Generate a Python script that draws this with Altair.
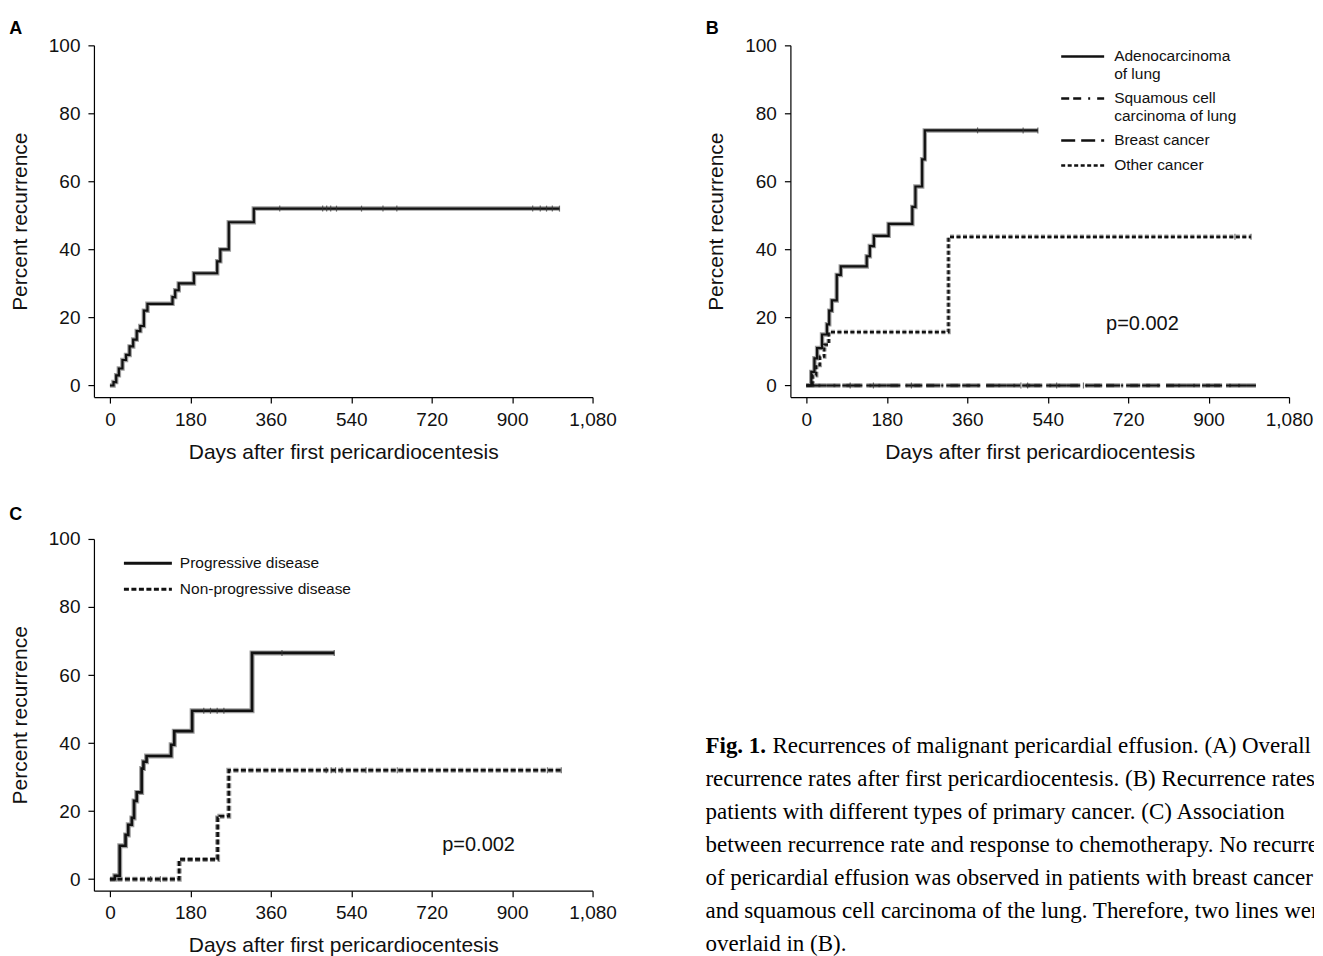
import altair as alt
import pandas as pd

SANS = "Liberation Sans"
SERIF = "Liberation Serif"
INK = "#111111"
HALO = "#9c9c9c"

x_ticks = [0, 180, 360, 540, 720, 900, 1080]
y_ticks = [0, 20, 40, 60, 80, 100]
x_title = "Days after first pericardiocentesis"
y_title = "Percent recurrence"
X_DOMAIN = [-35.8, 1080]
Y_DOMAIN = [-3.4, 100]
W, H = 499, 352

# ---------------- Panel A: overall ----------------
a_days = [0, 8, 14, 20, 28, 36, 44, 52, 60, 68, 76, 84, 140, 146, 154, 188, 240, 247, 266, 322, 1006]
a_vals = [0, 1, 3, 5, 7.5, 9, 11.5, 13.5, 16, 17.5, 22, 24, 26, 28, 30, 33, 36.5, 40, 48, 52, 52]
a_cens_days = [380, 476, 485, 494, 507, 563, 611, 642, 946, 963, 977, 990, 1006]
a_cens_vals = [52, 52, 52, 52, 52, 52, 52, 52, 52, 52, 52, 52, 52]

# ---------------- Panel B: by primary cancer ----------------
b_series = ["Adenocarcinoma of lung", "Squamous cell carcinoma of lung", "Breast cancer", "Other cancer"]
b_dashes = [[1, 0], [8, 4, 8, 7, 2, 7], [14, 6], [4, 2.5]]
b_adeno_days = [0, 11, 18, 24, 35, 46, 51, 57, 68, 77, 135, 142, 151, 184, 237, 244, 259, 265, 518]
b_adeno_vals = [0, 4, 8, 11, 15, 18, 22, 25, 32.5, 35, 38, 41, 44, 47.5, 52.5, 58.5, 66.5, 75, 75]
b_squam_days = [0, 985]
b_squam_vals = [0, 0]
b_breast_days = [0, 1006]
b_breast_vals = [0, 0]
b_other_days = [0, 14, 22, 30, 40, 50, 318, 995]
b_other_vals = [0, 3, 6, 8.5, 12, 15.7, 43.7, 43.7]
b_cens_days = [383, 485, 518, 959, 995, 98, 150, 235, 480, 495, 560, 620]
b_cens_vals = [75, 75, 75, 43.7, 43.7, 0, 0, 0, 0, 0, 0, 0]
b_p_day, b_p_val = [752], [18.2]

# ---------------- Panel C: by response ----------------
c_series = ["Progressive disease", "Non-progressive disease"]
c_dashes = [[1, 0], [5, 2.5]]
c_prog_days = [0, 11, 22, 35, 41, 49, 54, 60, 71, 75, 82, 137, 144, 184, 318, 502]
c_prog_vals = [0, 1, 9.8, 13, 16, 18, 23, 25.5, 32.5, 34.5, 36.2, 39.5, 43.5, 49.5, 66.5, 66.5]
c_non_days = [0, 155, 241, 246, 266, 1010]
c_non_vals = [0, 5.8, 18, 18.5, 32, 32]
c_cens_days = [210, 225, 240, 255, 385, 502, 91, 113, 484, 495, 505, 519, 573, 643, 979, 1010]
c_cens_vals = [49.5, 49.5, 49.5, 49.5, 66.5, 66.5, 0, 0, 32, 32, 32, 32, 32, 32, 32, 32]
c_p_day, c_p_val = [825], [10]

# ---------------- Caption ----------------
cap_bold = "Fig. 1."
cap_first = "Recurrences of malignant pericardial effusion. (A) Overall"
cap_rest = [
    "recurrence rates after first pericardiocentesis. (B) Recurrence rates in",
    "patients with different types of primary cancer. (C) Association",
    "between recurrence rate and response to chemotherapy. No recurrence",
    "of pericardial effusion was observed in patients with breast cancer",
    "and squamous cell carcinoma of the lung. Therefore, two lines were",
    "overlaid in (B).",
]


def series_df(name, days, vals):
    return pd.DataFrame({"series": name, "day": days, "pct": vals})


def enc_x():
    return alt.X("day:Q", scale=alt.Scale(domain=X_DOMAIN, nice=False, zero=False),
                 axis=alt.Axis(values=x_ticks, format=",d", title=x_title, grid=False,
                               labelFlush=False, labelOverlap=False, tickSize=6,
                               labelPadding=7, titlePadding=12))


def enc_y():
    return alt.Y("pct:Q", scale=alt.Scale(domain=Y_DOMAIN, nice=False, zero=False),
                 axis=alt.Axis(values=y_ticks, title=y_title, grid=False, tickSize=6,
                               labelPadding=8, titlePadding=18))


def panel_title(t, off):
    return alt.TitleParams(text=t, anchor="start", frame="bounds", font=SANS, fontSize=18,
                           fontWeight="bold", color="#000", offset=off)


def censor_layer(days, vals):
    df = pd.DataFrame({"day": days, "pct": vals})
    return alt.Chart(df).mark_tick(orient="vertical", size=6, thickness=1.2, color="#333").encode(
        x=enc_x(), y=enc_y())


def ptext_layer(days, vals):
    df = pd.DataFrame({"day": days, "pct": vals, "t": ["p=0.002"]})
    return alt.Chart(df).mark_text(font=SANS, fontSize=20, color=INK, align="center",
                                   baseline="middle").encode(x=enc_x(), y=enc_y(), text="t:N")


# Panel A
dfA = series_df("Overall", a_days, a_vals)
A = alt.layer(
    alt.Chart(dfA).mark_line(interpolate="step-after", color=HALO, strokeWidth=4.5).encode(x=enc_x(), y=enc_y()),
    alt.Chart(dfA).mark_line(interpolate="step-after", color=INK, strokeWidth=2.2).encode(x=enc_x(), y=enc_y()),
    censor_layer(a_cens_days, a_cens_vals),
).properties(width=W, height=H, title=panel_title("A", -2))

# Panel B
dfB = pd.concat([
    series_df(b_series[0], b_adeno_days, b_adeno_vals),
    series_df(b_series[1], b_squam_days, b_squam_vals),
    series_df(b_series[2], b_breast_days, b_breast_vals),
    series_df(b_series[3], b_other_days, b_other_vals),
], ignore_index=True)

b_label_expr = ("datum.label == 'Adenocarcinoma of lung' ? ['Adenocarcinoma', '\u00a0of lung'] : "
                "datum.label == 'Squamous cell carcinoma of lung' ? ['Squamous cell', 'carcinoma of lung'] : datum.label")


def b_legend():
    return alt.Legend(orient="none", legendX=280.5, legendY=4, title=None,
                      padding=0, symbolType="M-2,-0.44H2", symbolSize=462,
                      symbolStrokeWidth=2.5, symbolStrokeColor=INK,
                      labelFont=SANS, labelFontSize=15.5, labelColor=INK, labelLimit=300,
                      labelOffset=19.5, labelBaseline="alphabetic",
                      rowPadding=9, labelExpr=b_label_expr)


def c_legend():
    return alt.Legend(orient="none", legendX=40.5, legendY=16, title=None,
                      padding=0, symbolType="M-2,-0.44H2", symbolSize=576,
                      symbolStrokeWidth=3, symbolStrokeColor=INK,
                      labelFont=SANS, labelFontSize=15.5, labelColor=INK, labelLimit=300,
                      labelOffset=18.5, labelBaseline="alphabetic", rowPadding=9)


b_dash_scale = alt.Scale(domain=b_series, range=b_dashes)
B = alt.layer(
    alt.Chart(dfB).mark_line(interpolate="step-after", color=HALO, strokeWidth=4.5).encode(
        x=enc_x(), y=enc_y(), strokeDash=alt.StrokeDash("series:N", scale=b_dash_scale, legend=b_legend())),
    alt.Chart(dfB).mark_line(interpolate="step-after", color=INK, strokeWidth=2.2).encode(
        x=enc_x(), y=enc_y(), strokeDash=alt.StrokeDash("series:N", scale=b_dash_scale, legend=b_legend())),
    censor_layer(b_cens_days, b_cens_vals),
    ptext_layer(b_p_day, b_p_val),
).properties(width=W, height=H, title=panel_title("B", -2))

# Panel C
dfC = pd.concat([
    series_df(c_series[0], c_prog_days, c_prog_vals),
    series_df(c_series[1], c_non_days, c_non_vals),
], ignore_index=True)
c_dash_scale = alt.Scale(domain=c_series, range=c_dashes)
C = alt.layer(
    alt.Chart(dfC).mark_line(interpolate="step-after", color=HALO, strokeWidth=5).encode(
        x=enc_x(), y=enc_y(), strokeDash=alt.StrokeDash("series:N", scale=c_dash_scale, legend=c_legend())),
    alt.Chart(dfC).mark_line(interpolate="step-after", color=INK, strokeWidth=2.6).encode(
        x=enc_x(), y=enc_y(), strokeDash=alt.StrokeDash("series:N", scale=c_dash_scale, legend=c_legend())),
    censor_layer(c_cens_days, c_cens_vals),
    ptext_layer(c_p_day, c_p_val),
).properties(width=W, height=H, title=panel_title("C", 6))

# Caption panel
cap_df = pd.DataFrame({"row": list(range(1, 7)), "text": cap_rest})
cap0_df = pd.DataFrame({"row": [0], "text": [cap_first]})
capb_df = pd.DataFrame({"row": [0], "text": [cap_bold]})
cap_y = alt.Y("row:Q", scale=alt.Scale(domain=[-6.27, 7.06], reverse=True, nice=False, zero=False), axis=None)
CAP = alt.layer(
    alt.Chart(capb_df).mark_text(font=SERIF, fontSize=23, fontWeight="bold", color="#000", clip=True,
                                 align="left", baseline="middle").encode(x=alt.value(0), y=cap_y, text="text:N"),
    alt.Chart(cap0_df).mark_text(font=SERIF, fontSize=23, color="#000", align="left", baseline="middle",
                                 dx=67, clip=True).encode(x=alt.value(0), y=cap_y, text="text:N"),
    alt.Chart(cap_df).mark_text(font=SERIF, fontSize=23, color="#000", align="left", clip=True,
                                baseline="middle").encode(x=alt.value(0), y=cap_y, text="text:N"),
).properties(width=609, height=440)

row1 = alt.hconcat(A, B, spacing=87).resolve_scale(strokeDash="independent").resolve_legend(strokeDash="independent")
row2 = alt.hconcat(C, CAP, spacing=87).resolve_scale(strokeDash="independent").resolve_legend(strokeDash="independent")
chart = alt.vconcat(row1, row2, spacing=42).resolve_scale(strokeDash="independent").resolve_legend(
    strokeDash="independent"
).properties(
    padding={"left": 0, "top": 11, "right": 0, "bottom": 0}
).configure_view(stroke="transparent").configure_axis(
    labelFont=SANS, titleFont=SANS, labelFontSize=19, titleFontSize=21, labelColor=INK,
    titleColor=INK, titleFontWeight="normal", domainColor="#000", tickColor="#000",
    domainWidth=1.2, tickWidth=1.2
)

chart.save("out.html", embed_options={"renderer": "svg", "actions": False})
